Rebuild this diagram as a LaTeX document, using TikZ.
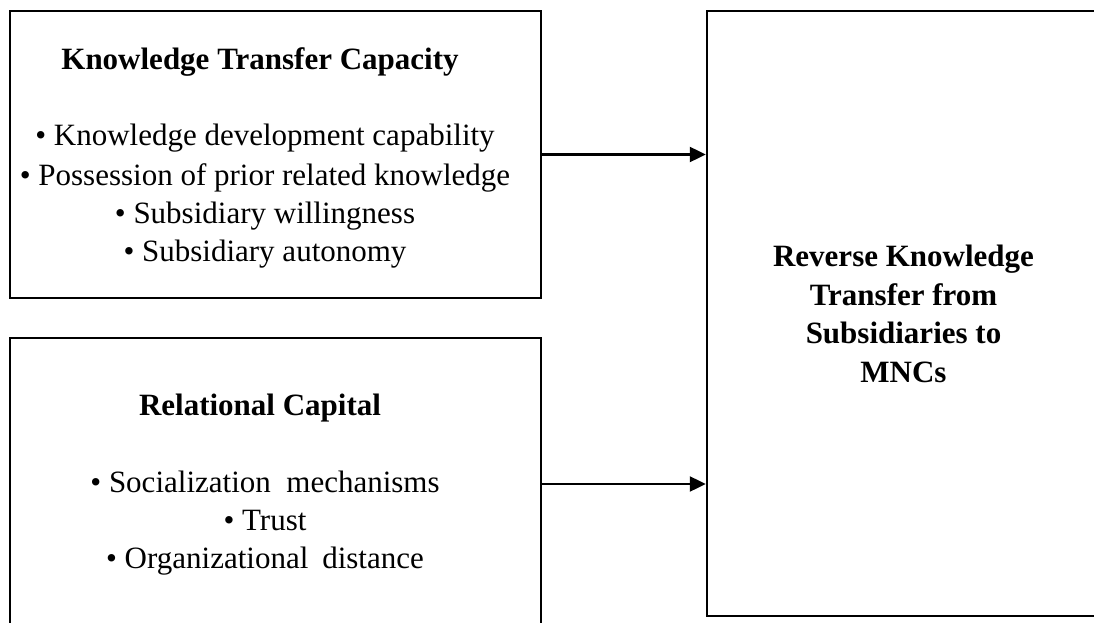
\documentclass[tikz,border=0pt]{standalone}
\usepackage{fontspec}
\setmainfont{Liberation Serif}
\usetikzlibrary{arrows.meta}
\tikzset{
  box/.style={draw=black, line width=2.4pt, rectangle, inner sep=0pt},
  txt/.style={anchor=base, inner sep=0pt, font=\fontsize{31}{38}\selectfont},
  hd/.style={txt, font=\fontsize{31}{38}\selectfont\bfseries},
  conn/.style={line width=2.2pt, -{Triangle[length=16pt,width=15pt]}}
}
\begin{document}
\begin{tikzpicture}[x=1pt,y=-1pt]
\useasboundingbox (0,0) rectangle (1094,623);
\clip (0,0) rectangle (1094,623);
% boxes
\node[box, minimum width=531pt, minimum height=287pt] (ktc) at (275.5,154.5) {};
\node[box, minimum width=531pt, minimum height=292pt] (rc) at (275.5,484) {};
\node[box, minimum width=392pt, minimum height=605pt] (rkt) at (903,313.5) {};
% top-left box text
\node[hd] (ktct) at (260,70) {Knowledge Transfer Capacity};
\node[txt] (ktc1) at (265,146) {• Knowledge development capability};
\node[txt] (ktc2) at (265,185) {• Possession of prior related knowledge};
\node[txt] (ktc3) at (265,223) {• Subsidiary willingness};
\node[txt] (ktc4) at (265,261) {• Subsidiary autonomy};
% bottom-left box text
\node[hd] (rct) at (260,415) {Relational Capital};
\node[txt] (rc1) at (265,492) {• Socialization\hspace{0.25em} mechanisms};
\node[txt] (rc2) at (265,530) {• Trust};
\node[txt] (rc3) at (265,568) {• Organizational\hspace{0.2em} distance};
% right box text
\node[hd] (rk1) at (903.5,266) {Reverse Knowledge};
\node[hd] (rk2) at (903.5,305) {Transfer from};
\node[hd] (rk3) at (903.5,343) {Subsidiaries to};
\node[hd] (rk4) at (903.5,382) {MNCs};
% connectors
\draw[conn] (ktc.east) -- (rkt.west |- ktc.east);
\draw[conn] (rc.east) -- (rkt.west |- rc.east);
\end{tikzpicture}
\end{document}
